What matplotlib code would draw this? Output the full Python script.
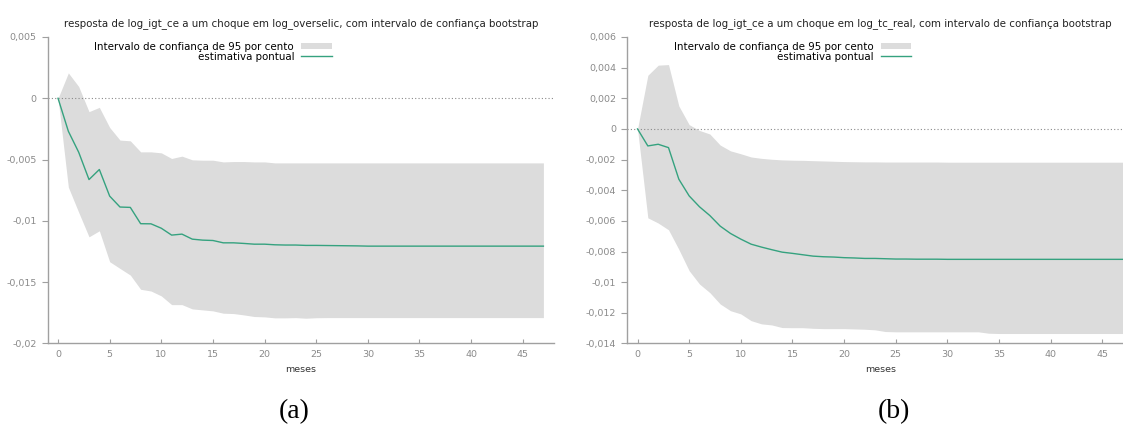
import numpy as np
import matplotlib
matplotlib.use("Agg")
import matplotlib.pyplot as plt
from matplotlib.patches import Patch
from matplotlib.lines import Line2D

# horizonte (meses) 0..47
meses = list(range(48))

# (a) resposta a um choque em log_overselic
a_titulo = "resposta de log_igt_ce a um choque em log_overselic, com intervalo de confiança bootstrap"
a_ponto = [0, -0.00269, -0.0044, -0.00663, -0.00581, -0.00798, -0.00887, -0.0089, -0.01023, -0.01024,
           -0.0106, -0.01116, -0.01108, -0.01149, -0.01157, -0.0116, -0.01179, -0.01179, -0.01184, -0.0119,
           -0.0119, -0.01195, -0.01197, -0.01197, -0.012, -0.012, -0.01201, -0.01202, -0.01203, -0.01204,
           -0.01206, -0.01206, -0.01206, -0.01206, -0.01206, -0.01206, -0.01206, -0.01206, -0.01206, -0.01206,
           -0.01206, -0.01206, -0.01206, -0.01206, -0.01206, -0.01206, -0.01206, -0.01206]
a_sup = [0, 0.00207, 0.00096, -0.00109, -0.00074, -0.00238, -0.00341, -0.00347, -0.00437, -0.00437,
         -0.00445, -0.00491, -0.00472, -0.00502, -0.00505, -0.00505, -0.00519, -0.00516, -0.00516, -0.00519,
         -0.00519, -0.00527, -0.00527, -0.00527, -0.00527, -0.00527, -0.00527, -0.00527, -0.00527, -0.00527,
         -0.00527, -0.00527, -0.00527, -0.00527, -0.00527, -0.00527, -0.00527, -0.00527, -0.00527, -0.00527,
         -0.00527, -0.00527, -0.00527, -0.00527, -0.00527, -0.00527, -0.00527, -0.00527]
a_inf = [0, -0.00725, -0.0093, -0.0113, -0.01081, -0.01333, -0.01388, -0.01442, -0.01558, -0.01572,
         -0.01612, -0.01683, -0.01683, -0.01718, -0.01726, -0.01734, -0.01753, -0.01756, -0.01767, -0.0178,
         -0.01783, -0.01791, -0.01791, -0.01789, -0.01794, -0.0179, -0.01789, -0.01789, -0.01789, -0.01789,
         -0.01789, -0.01789, -0.01789, -0.01789, -0.01789, -0.01789, -0.01789, -0.01789, -0.01789, -0.01789,
         -0.01789, -0.01789, -0.01789, -0.01789, -0.01789, -0.01789, -0.01789, -0.01789]
a_yticks = [0.005, 0, -0.005, -0.01, -0.015, -0.02]
a_ylabels = ["0,005", "0", "-0,005", "-0,01", "-0,015", "-0,02"]

# (b) resposta a um choque em log_tc_real
b_titulo = "resposta de log_igt_ce a um choque em log_tc_real, com intervalo de confiança bootstrap"
b_ponto = [0, -0.00111, -0.001, -0.00122, -0.00328, -0.00437, -0.00508, -0.00565, -0.00634, -0.00682,
           -0.00719, -0.00752, -0.00771, -0.00788, -0.00804, -0.00812, -0.00821, -0.0083, -0.00834, -0.00836,
           -0.0084, -0.00842, -0.00845, -0.00845, -0.00847, -0.00849, -0.00849, -0.0085, -0.0085, -0.0085,
           -0.00851, -0.00851, -0.00851, -0.00851, -0.00851, -0.00851, -0.00851, -0.00851, -0.00851, -0.00851,
           -0.00851, -0.00851, -0.00851, -0.00851, -0.00851, -0.00851, -0.00851, -0.00851]
b_sup = [0, 0.0035, 0.00416, 0.0042, 0.0015, 0.00028, -0.0001, -0.00033, -0.00105, -0.00143,
         -0.00162, -0.00183, -0.00192, -0.00198, -0.00202, -0.00204, -0.00205, -0.00207, -0.00209, -0.00211,
         -0.00213, -0.00214, -0.00215, -0.00215, -0.00216, -0.00216, -0.00216, -0.00216, -0.00216, -0.00216,
         -0.00217, -0.00217, -0.00217, -0.00217, -0.00217, -0.00217, -0.00217, -0.00217, -0.00217, -0.00217,
         -0.00217, -0.00217, -0.00217, -0.00217, -0.00217, -0.00217, -0.00217, -0.00217]
b_inf = [0, -0.0058, -0.00614, -0.00658, -0.00786, -0.00925, -0.01012, -0.01068, -0.01142, -0.01186,
         -0.01207, -0.01251, -0.01272, -0.01279, -0.01296, -0.01297, -0.01297, -0.01301, -0.01303, -0.01303,
         -0.01303, -0.01305, -0.01307, -0.01311, -0.01322, -0.01324, -0.01324, -0.01324, -0.01324, -0.01324,
         -0.01324, -0.01324, -0.01324, -0.01324, -0.01333, -0.01335, -0.01335, -0.01335, -0.01335, -0.01335,
         -0.01335, -0.01335, -0.01335, -0.01335, -0.01335, -0.01335, -0.01335, -0.01335]
b_yticks = [0.006, 0.004, 0.002, 0, -0.002, -0.004, -0.006, -0.008, -0.01, -0.012, -0.014]
b_ylabels = ["0,006", "0,004", "0,002", "0", "-0,002", "-0,004", "-0,006", "-0,008", "-0,01", "-0,012", "-0,014"]

xticks = [0, 5, 10, 15, 20, 25, 30, 35, 40, 45]
leg_banda = "Intervalo de confiança de 95 por cento"
leg_ponto = "estimativa pontual"

VERDE = "#35a27f"
CINZA = "#dcdcdc"
EIXO = "#a0a0a0"

plt.rcParams['font.family'] = ['DejaVu Sans']


def painel(ax, titulo, ponto, sup, inf, yticks, ylabels):
    ax.fill_between(meses, inf, sup, color=CINZA, linewidth=0)
    ax.axhline(0, color="#8a8a8a", linestyle=(0, (1, 2)), linewidth=0.8)
    ax.plot(meses, ponto, color=VERDE, linewidth=1.0)
    ax.set_xlim(-1, 48)
    ax.set_ylim(yticks[-1], yticks[0])
    ax.set_yticks(yticks)
    ax.set_yticklabels(ylabels)
    ax.set_xticks(xticks)
    for s in ("top", "right"):
        ax.spines[s].set_visible(False)
    for s in ("left", "bottom"):
        ax.spines[s].set_color(EIXO)
        ax.spines[s].set_linewidth(1.0)
    ax.tick_params(axis="y", direction="out", length=4, width=0.8, color=EIXO,
                   labelsize=6.8, labelcolor="#8a8a8a", pad=4)
    ax.tick_params(axis="x", direction="in", length=3, width=0.8, color=EIXO,
                   labelsize=6.8, labelcolor="#8a8a8a", pad=5)
    ax.set_xlabel("meses", fontsize=6.8, color="#333333", labelpad=4)
    ax.set_title(titulo, fontsize=7.4, color="#222222", pad=8)
    handles = [Patch(facecolor=CINZA, edgecolor="none"), Line2D([], [], color=VERDE, linewidth=1.0)]
    ax.legend(handles, [leg_banda, leg_ponto], loc="upper right", bbox_to_anchor=(0.561, 0.985),
              frameon=False, markerfirst=False, fontsize=7.4, handlelength=2.95, handleheight=0.6,
              handletextpad=0.7, labelspacing=0.0, borderpad=0, borderaxespad=0)


fig = plt.figure(figsize=(11.23, 4.32), dpi=100)
ax1 = fig.add_axes([0.04248, 0.2049, 0.4506, 0.7095])
ax2 = fig.add_axes([0.5585, 0.2049, 0.4506, 0.7095])

painel(ax1, a_titulo, a_ponto, a_sup, a_inf, a_yticks, a_ylabels)
painel(ax2, b_titulo, b_ponto, b_sup, b_inf, b_yticks, b_ylabels)

fig.text(0.2616, 0.047, "(a)", ha="center", va="center", fontsize=20, family="Liberation Serif")
fig.text(0.796, 0.047, "(b)", ha="center", va="center", fontsize=20, family="Liberation Serif")

fig.savefig("out.png", dpi=100)
